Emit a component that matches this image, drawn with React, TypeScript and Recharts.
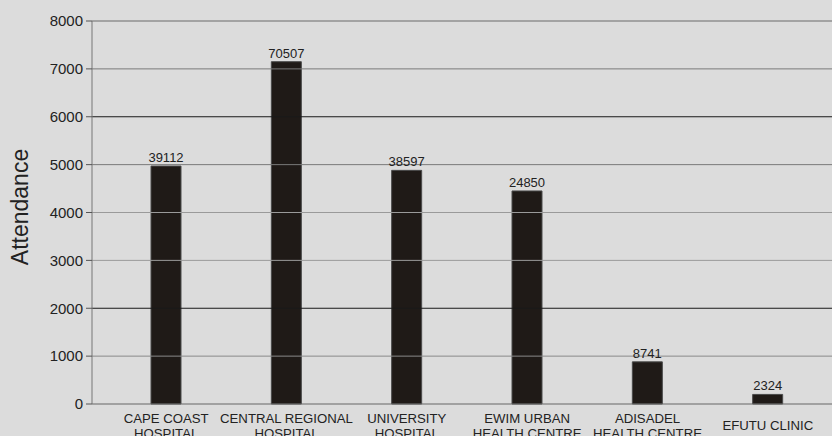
import { BarChart, Bar, XAxis, YAxis, ReferenceLine, LabelList } from 'recharts';

const categories = [
  'CAPE COAST\nHOSPITAL',
  'CENTRAL REGIONAL\nHOSPITAL',
  'UNIVERSITY\nHOSPITAL',
  'EWIM URBAN\nHEALTH CENTRE',
  'ADISADEL\nHEALTH CENTRE',
  'EFUTU CLINIC',
];
const heights = [4970, 7150, 4880, 4450, 880, 200];
const barLabels = ['39112', '70507', '38597', '24850', '8741', '2324'];
const yTicks = [0, 1000, 2000, 3000, 4000, 5000, 6000, 7000, 8000];

// grid lines in the original are not all the same shade
const gridShade: Record<number, string> = {
  1000: '#8a8a8a',
  2000: '#1a1a1a',
  3000: '#9a9a9a',
  4000: '#9a9a9a',
  5000: '#7a7a7a',
  6000: '#1a1a1a',
  7000: '#7a7a7a',
  8000: '#6a6a6a',
};

const data = categories.map((name, i) => ({ name, value: heights[i], label: barLabels[i] }));

const FONT = '"Liberation Sans", Arial, sans-serif';

function CategoryTick(props: any) {
  const { x, y, payload } = props;
  const lines = String(payload.value).split('\n');
  const first = y + 26 - (lines.length - 1) * 7.5;
  return (
    <text x={x} y={first} textAnchor="middle" fontSize={13.2} fontFamily={FONT} fill="#222">
      {lines.map((l, i) => (
        <tspan key={i} x={x} y={first + i * 15}>{l}</tspan>
      ))}
    </text>
  );
}

function ValueLabel(props: any) {
  const { x, y, width, index } = props;
  return (
    <text x={x + width / 2} y={y - 4} textAnchor="middle" fontSize={13} fontFamily={FONT} fill="#222">
      {barLabels[index]}
    </text>
  );
}

export default function App() {
  return (
    <div style={{ position: 'absolute', left: 0, top: 0, width: 832, height: 436, overflow: 'hidden', background: '#dcdcdc' }}>
      <BarChart width={860} height={436} data={data} margin={{ top: 21, right: 0, left: 0, bottom: 2 }}>
        <XAxis
          dataKey="name"
          height={30}
          interval={0}
          tickLine={false}
          tickSize={0}
          tickMargin={0}
          padding={{ left: 14, right: 32 }}
          axisLine={{ stroke: '#666' }}
          tick={<CategoryTick />}
        />
        <YAxis
          width={92}
          domain={[0, 8000]}
          ticks={yTicks}
          interval={0}
          tickSize={6}
          tickMargin={3}
          axisLine={{ stroke: '#777' }}
          tickLine={{ stroke: '#555' }}
          tick={{ fontSize: 15, fontFamily: FONT, fill: '#222' }}
          label={() => (
            <text
              x={20}
              y={207}
              transform="rotate(-90 20 207)"
              textAnchor="middle"
              dominantBaseline="central"
              fontSize={23}
              fontFamily={FONT}
              fill="#222"
            >
              Attendance
            </text>
          )}
        />
        {yTicks.filter((t) => t > 0).map((t) => (
          <ReferenceLine key={t} y={t} stroke={gridShade[t]} strokeWidth={1} />
        ))}
        <Bar dataKey="value" fill="#1f1a17" stroke="#4a4a4a" strokeWidth={1} barSize={30} isAnimationActive={false}>
          <LabelList dataKey="label" content={<ValueLabel />} />
        </Bar>
      </BarChart>
    </div>
  );
}
